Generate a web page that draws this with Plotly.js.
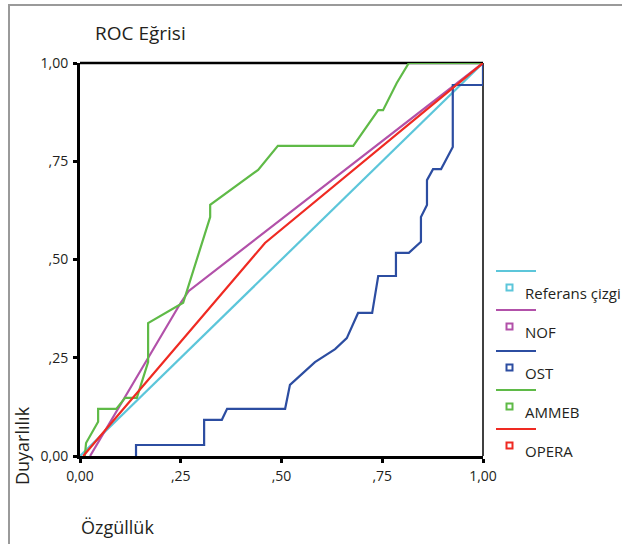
<!DOCTYPE html>
<html>
<head>
<meta charset="utf-8">
<script src="https://cdn.plot.ly/plotly-3.0.1.min.js"></script>
<style>html,body{margin:0;padding:0;background:#fff;}#chart{width:622px;height:544px;}</style>
</head>
<body>
<div id="chart"></div>
<script>
// ---- Data ----
const seriesNames = ['Referans çizgi', 'NOF', 'OST', 'AMMEB', 'OPERA'];

const refX = [0, 1];
const refY = [0, 1];

const nofX = [0.025, 0.25, 0.27, 1];
const nofY = [0, 0.39, 0.42, 1];

const ostX = [0.139, 0.139, 0.308, 0.308, 0.352, 0.365, 0.509, 0.521, 0.583, 0.633, 0.662, 0.690, 0.725, 0.740, 0.784, 0.784, 0.816, 0.846, 0.846, 0.861, 0.861, 0.876, 0.896, 0.925, 0.925, 1, 1];
const ostY = [0, 0.028, 0.028, 0.092, 0.092, 0.120, 0.120, 0.181, 0.239, 0.272, 0.300, 0.364, 0.364, 0.458, 0.458, 0.517, 0.517, 0.545, 0.608, 0.639, 0.702, 0.730, 0.730, 0.786, 0.944, 0.944, 1];

const ammebX = [0.012, 0.015, 0.045, 0.045, 0.090, 0.112, 0.141, 0.169, 0.169, 0.256, 0.323, 0.323, 0.442, 0.491, 0.678, 0.740, 0.752, 0.786, 0.816, 1];
const ammebY = [0, 0.033, 0.087, 0.120, 0.120, 0.148, 0.148, 0.239, 0.338, 0.390, 0.608, 0.639, 0.728, 0.789, 0.789, 0.880, 0.880, 0.949, 1, 1];

const operaX = [0.008, 0.42, 0.459, 1];
const operaY = [0, 0.494, 0.542, 1];

const tickVals = [0, 0.25, 0.5, 0.75, 1];
const tickText = ['0,00', ',25', ',50', ',75', '1,00'];

// ---- Styles ----
const colors = ['#5cc6da', '#b251a9', '#2c4da1', '#5fba47', '#ef2a22'];
const FONT = '"Open Sans", "Noto Sans", sans-serif';
const TXT = '#231f20';

const xs = [refX, nofX, ostX, ammebX, operaX];
const ys = [refY, nofY, ostY, ammebY, operaY];

const traces = seriesNames.map((n, i) => ({
  type: 'scatter', mode: 'lines', name: n,
  x: xs[i], y: ys[i],
  line: {color: colors[i], width: 2.2},
  cliponaxis: false, hoverinfo: 'skip'
}));

// pixel -> paper helpers (plot area: x 80..483, y 63..456)
const PX = px => (px - 80) / 403;
const PY = py => (456 - py) / 393;

const shapes = [
  // outer grey frame
  {type: 'rect', xref: 'paper', yref: 'paper', x0: PX(9), x1: PX(640), y0: PY(5), y1: PY(560),
   line: {color: '#9a9a9a', width: 2}, layer: 'below'},
  // top and right frame of the plot box
  {type: 'line', xref: 'paper', yref: 'paper', x0: 0, x1: 1, y0: 1, y1: 1, line: {color: '#000', width: 2.5}, layer: 'below'},
  {type: 'line', xref: 'paper', yref: 'paper', x0: 1, x1: 1, y0: 0, y1: 1, line: {color: '#000', width: 1.5}, layer: 'below'}
];

const annotations = [
  {text: 'Duyarlılık', xref: 'paper', yref: 'paper', x: PX(22), y: PY(446), textangle: -90,
   showarrow: false, xanchor: 'center', yanchor: 'middle', font: {family: FONT, size: 18, color: TXT}},
  {text: 'Özgüllük', xref: 'paper', yref: 'paper', x: PX(79), y: PY(527),
   showarrow: false, xanchor: 'left', yanchor: 'middle', font: {family: FONT, size: 18, color: TXT}}
];

// manual legend: line above, small hollow square + label below
const legLineY = [271, 310, 351, 390, 429];
seriesNames.forEach((n, i) => {
  const ly = legLineY[i];
  shapes.push({type: 'line', xref: 'paper', yref: 'paper', x0: PX(496), x1: PX(536), y0: PY(ly), y1: PY(ly),
    line: {color: colors[i], width: 2}});
  shapes.push({type: 'rect', xref: 'paper', yref: 'paper', x0: PX(506.5), x1: PX(512.5), y0: PY(ly + 13.5), y1: PY(ly + 19.5),
    line: {color: colors[i], width: 2}, fillcolor: '#fff'});
  annotations.push({text: n, xref: 'paper', yref: 'paper', x: PX(523), y: PY(ly + 22),
    showarrow: false, xanchor: 'left', yanchor: 'middle', font: {family: FONT, size: 15, color: TXT}});
});

const axisCommon = {
  range: [0, 1], tickvals: tickVals, ticktext: tickText,
  ticks: 'outside', ticklen: 4, tickwidth: 3, tickcolor: '#000',
  showgrid: false, zeroline: false, showline: true, linewidth: 3, linecolor: '#000',
  tickfont: {family: FONT, size: 14, color: TXT}, fixedrange: true
};

const layout = {
  width: 622, height: 544,
  margin: {l: 80, r: 139, t: 63, b: 88},
  paper_bgcolor: '#fff', plot_bgcolor: '#fff',
  showlegend: false,
  title: {text: 'ROC Eğrisi', xref: 'container', yref: 'container', x: 95 / 622, xanchor: 'left',
          y: 1 - 33 / 544, yanchor: 'middle', font: {family: FONT, size: 19, color: TXT}},
  xaxis: Object.assign({}, axisCommon, {ticklabelstandoff: 1}),
  yaxis: Object.assign({}, axisCommon, {ticklabelstandoff: 2}),
  shapes: shapes,
  annotations: annotations
};

Plotly.newPlot('chart', traces, layout, {displayModeBar: false, staticPlot: true});
</script>
</body>
</html>
